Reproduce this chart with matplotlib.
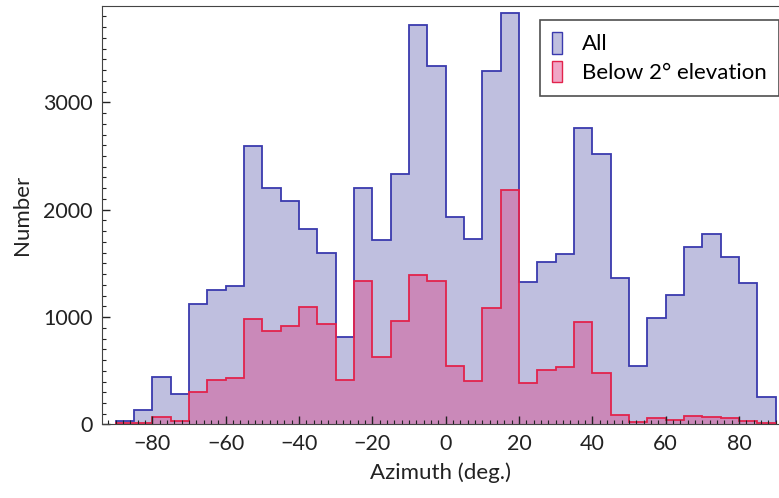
import numpy as np
import matplotlib.pyplot as plt
from matplotlib.patches import Patch
from matplotlib.ticker import MultipleLocator

plt.rcParams['font.family'] = ['Lato', 'DejaVu Sans']

# histogram bins: -90..90 in 5 deg steps
bin_edges = np.arange(-90, 91, 5)

n_all = [35, 135, 440, 281, 1122, 1252, 1289, 2593, 2199, 2084, 1817, 1594,
         812, 2199, 1718, 2332, 3720, 3341, 1929, 1730, 3294, 3829, 1330, 1516,
         1588, 2758, 2516, 1361, 548, 989, 1206, 1650, 1771, 1557, 1315, 253]

n_low = [17, 11, 73, 35, 305, 414, 436, 980, 873, 920, 1097, 936,
         414, 1336, 631, 964, 1392, 1336, 545, 405, 1088, 2183, 389, 507,
         538, 957, 477, 88, 26, 58, 42, 79, 67, 58, 35, 11]

labels = ["All", "Below 2° elevation"]

blue_fill = "#bfbfdf"
blue_edge = "#3a3aae"
red_fill = "#dd3a82"
red_edge = "#e2234c"

fig = plt.figure(figsize=(7.79, 4.98), dpi=100)
ax = fig.add_axes([0.131, 0.1476, 0.869, 0.8404])

ax.stairs(n_all, bin_edges, fill=True, color=blue_fill, lw=0)
ax.stairs(n_all, bin_edges, color=blue_edge, lw=1.3, baseline=0)
ax.stairs(n_low, bin_edges, fill=True, color=red_fill, alpha=0.4, lw=0)
ax.stairs(n_low, bin_edges, color=red_edge, lw=1.3, baseline=0)

ax.set_xlim(-93.7, 90.9)
ax.set_ylim(0, 3897)

ax.xaxis.set_major_locator(MultipleLocator(20))
ax.xaxis.set_minor_locator(MultipleLocator(2))
ax.yaxis.set_major_locator(MultipleLocator(1000))
ax.yaxis.set_minor_locator(MultipleLocator(100))
ax.tick_params(which="both", direction="in", top=False, right=False,
               labelsize=15.5, colors="#222222")
ax.tick_params(which="major", length=6, width=1, pad=7)
ax.tick_params(which="minor", length=3, width=0.8)
for s in ax.spines.values():
    s.set_color("#444444")
ax.spines["right"].set_visible(False)

ax.set_xlabel("Azimuth (deg.)", fontsize=16, color="#222222", labelpad=6)
ax.set_ylabel("Number", fontsize=16, color="#222222", labelpad=8)

handles = [Patch(facecolor=blue_fill, edgecolor=blue_edge),
           Patch(facecolor=(0.87, 0.23, 0.51, 0.45), edgecolor=red_edge)]
leg = ax.legend(handles, labels, loc="upper right",
                bbox_to_anchor=(1.0, 1 - 20 / 498), bbox_transform=fig.transFigure,
                borderaxespad=0, fancybox=False, edgecolor="#222222",
                fontsize=16, handlelength=0.45, handleheight=1.1,
                handletextpad=0.9, borderpad=0.55, labelspacing=0.3)
leg.get_frame().set_linewidth(1.2)

fig.savefig("out.png", dpi=100)
